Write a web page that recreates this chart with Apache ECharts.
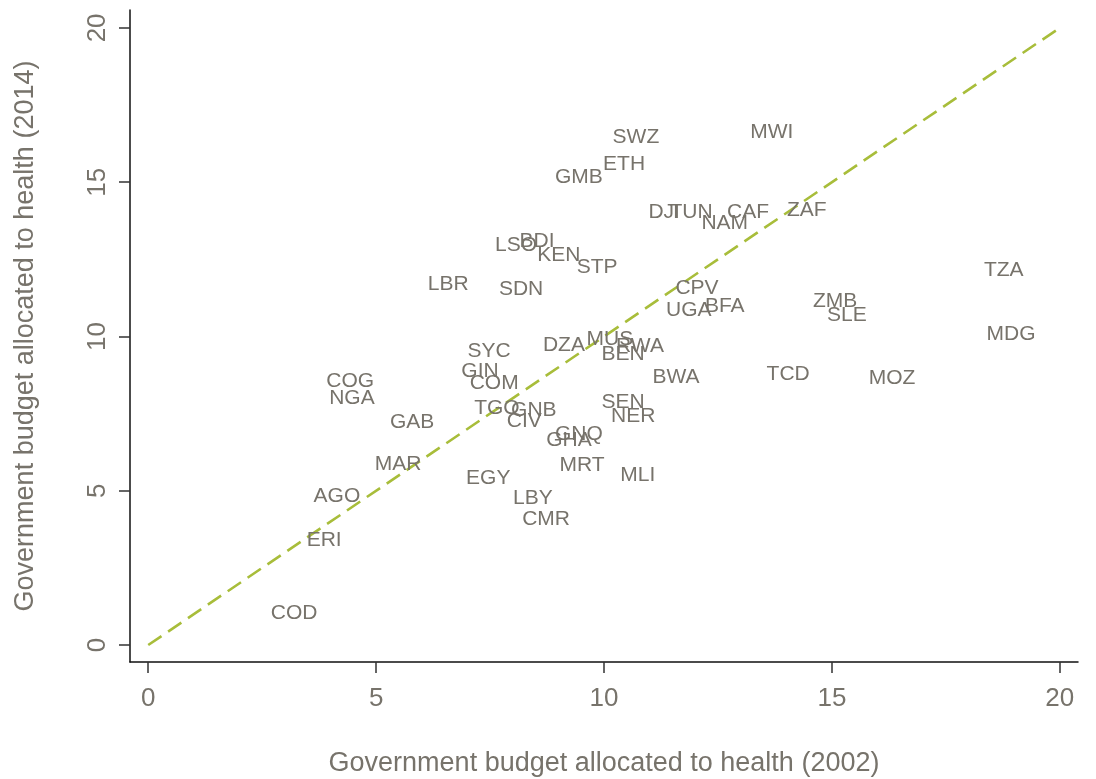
<!DOCTYPE html>
<html>
<head>
<meta charset="utf-8">
<script src="https://cdn.jsdelivr.net/npm/echarts@6/dist/echarts.min.js"></script>
<style>
  html, body { margin: 0; padding: 0; background: #fff; }
  #chart { width: 1096px; height: 779px; }
</style>
</head>
<body>
<div id="chart"></div>
<script>
// country codes, budget share 2002 (x) and 2014 (y)
var countries = ["COD","ERI","AGO","MAR","GAB","NGA","COG","EGY","LBY","CMR","GIN","COM","SYC","TGO","GNB","CIV",
  "GHA","GNQ","MRT","MLI","SEN","NER","DZA","MUS","BEN","RWA","BWA","TCD","MOZ","MDG","TZA","ZMB","SLE","CPV",
  "UGA","BFA","DJI","TUN","NAM","CAF","ZAF","MWI","SWZ","ETH","GMB","LSO","BDI","KEN","STP","LBR","SDN"];
var budget2002 = [3.20,3.86,4.14,5.48,5.79,4.47,4.43,7.46,8.44,8.73,7.28,7.59,7.48,7.65,8.46,8.25,
  9.23,9.45,9.52,10.74,10.42,10.64,9.12,10.13,10.42,10.79,11.58,14.04,16.32,18.93,18.77,15.07,15.33,12.04,
  11.86,12.65,11.32,11.91,12.65,13.16,14.45,13.68,10.70,10.44,9.45,8.07,8.53,9.01,9.85,6.58,8.18];
var budget2014 = [1.10,3.47,4.89,5.93,7.29,8.07,8.62,5.48,4.83,4.15,8.95,8.56,9.59,7.75,7.68,7.33,
  6.71,6.90,5.90,5.58,7.94,7.49,9.79,9.98,9.50,9.76,8.75,8.85,8.72,10.15,12.22,11.22,10.76,11.64,
  10.92,11.05,14.10,14.10,13.74,14.10,14.16,16.69,16.53,15.66,15.24,13.03,13.16,12.71,12.32,11.77,11.60];
var lineX = [0, 20];
var lineY = [0, 20];
var tickValues = [0, 5, 10, 15, 20];

var textGray = "#77736b";
var font = "'Liberation Sans', Arial, Helvetica, sans-serif";

var points = [];
for (var i = 0; i < countries.length; i++) {
  points.push({ name: countries[i], value: [budget2002[i], budget2014[i]] });
}
var diag = [];
for (var j = 0; j < lineX.length; j++) {
  diag.push([lineX[j], lineY[j]]);
}

var chart = echarts.init(document.getElementById("chart"));
chart.setOption({
  backgroundColor: "#fff",
  animation: false,
  grid: { left: 130, right: 18, top: 10, bottom: 117, containLabel: false, outerBoundsMode: "none" },
  xAxis: {
    type: "value",
    min: -0.4,
    max: 20.4,
    name: "Government budget allocated to health (2002)",
    nameLocation: "middle",
    nameGap: 88,
    nameTextStyle: { color: textGray, fontSize: 27, fontFamily: font },
    axisLine: { show: true, onZero: false, lineStyle: { color: "#111", width: 1.5 } },
    axisTick: { show: true, length: 11, customValues: tickValues, lineStyle: { color: "#333", width: 1.5 } },
    axisLabel: { customValues: tickValues, margin: 24, color: textGray, fontSize: 26, fontFamily: font },
    splitLine: { show: false }
  },
  yAxis: {
    type: "value",
    min: -0.55,
    max: 20.58,
    name: "Government budget allocated to health (2014)",
    nameLocation: "middle",
    nameGap: 91,
    nameTextStyle: { color: textGray, fontSize: 27, fontFamily: font },
    axisLine: { show: true, onZero: false, lineStyle: { color: "#111", width: 1.5 } },
    axisTick: { show: true, length: 11, customValues: tickValues, lineStyle: { color: "#333", width: 1.5 } },
    axisLabel: { customValues: tickValues, rotate: 90, margin: 19, color: textGray, fontSize: 26, fontFamily: font },
    splitLine: { show: false }
  },
  series: [
    {
      type: "line",
      data: diag,
      showSymbol: false,
      symbol: "none",
      lineStyle: { color: "#a8bd3a", width: 2.6, type: [16, 8] },
      z: 1
    },
    {
      type: "scatter",
      data: points,
      symbolSize: 0,
      itemStyle: { opacity: 1 },
      label: {
        show: true,
        position: "inside",
        offset: [0, 2],
        formatter: function (p) { return p.name; },
        color: textGray,
        opacity: 1,
        fontSize: 21,
        fontFamily: font
      },
      z: 2
    }
  ]
});
</script>
</body>
</html>
